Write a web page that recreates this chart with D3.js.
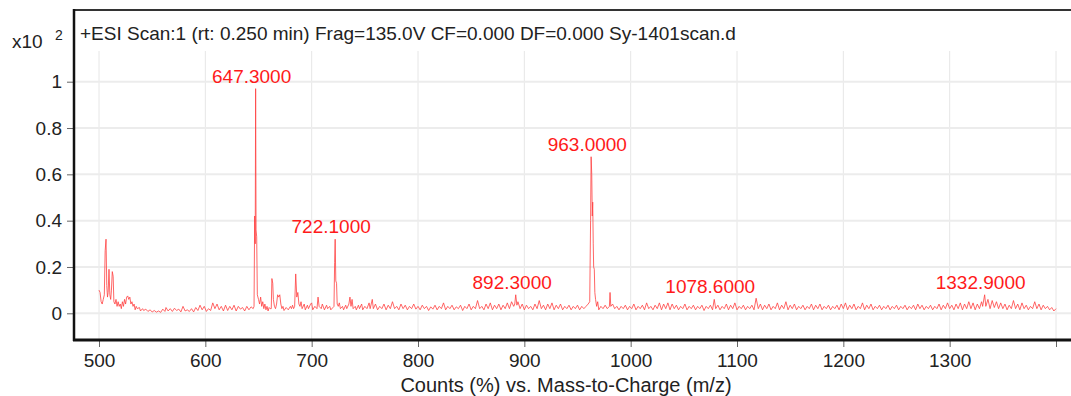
<!DOCTYPE html>
<html>
<head>
<meta charset="utf-8">
<script src="https://cdn.jsdelivr.net/npm/d3@7"></script>
<style>
  html, body { margin: 0; padding: 0; background: #fff; }
  svg { display: block; font-family: "Liberation Sans", Arial, sans-serif; }
</style>
</head>
<body>
<svg width="1071" height="396"></svg>
<script>
// title / axis texts
var title = "+ESI Scan:1 (rt: 0.250 min) Frag=135.0V CF=0.000 DF=0.000 Sy-1401scan.d";
var xTitle = "Counts (%) vs. Mass-to-Charge (m/z)";
var xTicks = [500, 600, 700, 800, 900, 1000, 1100, 1200, 1300, 1400];
var xLabels = ["500", "600", "700", "800", "900", "1000", "1100", "1200", "1300", ""];
var yTicks = [0, 0.2, 0.4, 0.6, 0.8, 1];
var yLabels = ["0", "0.2", "0.4", "0.6", "0.8", "1"];

// labelled peaks [m/z, intensity x10^2]
var peaks = [[647.3, 0.97], [722.1, 0.32], [892.3, 0.08], [963.0, 0.676], [1078.6, 0.06], [1332.9, 0.08]];

// spectrum [m/z, intensity x10^2]
var spectrum = [
[500,0.10],[501,0.09],[502,0.05],[503,0.04],[504,0.06],[505,0.08],[505.8,0.27],[506.6,0.32],[507.3,0.12],[508,0.07],
[508.6,0.09],[509.4,0.19],[510.2,0.08],[511,0.06],[511.7,0.10],[512.5,0.18],[513.3,0.16],[514,0.05],[515,0.04],[516,0.06],
[517,0.03],[518,0.05],[519,0.03],[520,0.04],[521,0.02],[522,0.05],[523,0.03],[524,0.06],[525,0.04],[526,0.07],
[527,0.075],[528,0.06],[529,0.07],[530,0.04],[531,0.05],[532,0.03],[533,0.04],[534,0.015],[535,0.03],[536,0.02],
[538,0.025],[539,0.01],[541,0.02],[542,0.012],[544,0.018],[546,0.008],[548,0.015],[550,0.006],[552,0.012],[554,0.005],
[556,0.01],[558,0.004],[560,0.018],[562,0.008],[563,0.025],[565,0.01],[567,0.02],[569,0.008],[571,0.022],[573,0.012],
[575,0.018],[577,0.006],[579,0.03],[581,0.01],[583,0.015],[585,0.008],[587,0.02],[589,0.006],[591,0.025],[593,0.012],
[595,0.035],[597,0.015],[599,0.03],[601,0.008],[603,0.02],[605,0.012],[607,0.045],[609,0.02],[611,0.04],[613,0.015],
[615,0.03],[617,0.01],[619,0.035],[621,0.012],[623,0.03],[625,0.015],[627,0.035],[629,0.01],[631,0.03],[633,0.018],
[635,0.025],[637,0.01],[639,0.03],[641,0.015],[643,0.028],[645,0.02],[645.8,0.03],[646.4,0.42],[646.9,0.3],[647.3,0.97],
[647.7,0.36],[648.3,0.33],[648.9,0.08],[650,0.06],[651,0.04],[652,0.07],[653,0.03],[654,0.05],[655,0.02],[656,0.04],
[657,0.015],[658,0.03],[659,0.01],[660,0.025],[661,0.02],[662,0.02],[662.6,0.15],[663.4,0.13],[664,0.06],[665,0.03],
[666,0.02],[667,0.04],[668,0.08],[669,0.07],[670,0.08],[671,0.04],[672,0.02],[673,0.03],[674,0.012],[676,0.025],
[678,0.015],[680,0.03],[681,0.02],[682,0.035],[683,0.02],[684,0.03],[685,0.17],[686,0.07],[687,0.09],[688,0.04],
[689,0.03],[690,0.05],[691,0.02],[693,0.04],[694,0.015],[696,0.035],[697,0.02],[699,0.04],[700,0.045],[701,0.015],
[703,0.03],[705,0.02],[706,0.07],[707,0.03],[709,0.02],[710,0.04],[712,0.015],[714,0.035],[715,0.02],[717,0.03],
[718,0.015],[720,0.025],[721,0.03],[721.6,0.22],[722.1,0.32],[722.7,0.14],[723.4,0.13],[724,0.04],[725,0.03],[726,0.045],
[727,0.02],[729,0.03],[730,0.015],[732,0.035],[733,0.02],[735,0.04],[736,0.07],[737,0.03],[738,0.06],[739,0.02],
[741,0.03],[742,0.015],[744,0.035],[745,0.02],[747,0.04],[748,0.015],[750,0.03],[752,0.02],[754,0.045],[755,0.02],
[757,0.06],[758,0.02],[760,0.04],[762,0.015],[764,0.03],[766,0.02],[768,0.04],[770,0.015],[772,0.035],[774,0.02],
[776,0.05],[778,0.02],[780,0.03],[782,0.015],[784,0.04],[786,0.02],[788,0.035],[790,0.015],[792,0.03],[794,0.02],
[796,0.04],[798,0.018],[800,0.03],[802,0.015],[804,0.035],[806,0.02],[808,0.03],[810,0.012],[812,0.028],[814,0.018],
[816,0.035],[818,0.015],[820,0.03],[822,0.02],[824,0.045],[826,0.015],[828,0.03],[830,0.02],[832,0.035],[834,0.015],
[836,0.028],[838,0.02],[840,0.035],[842,0.012],[844,0.03],[846,0.02],[848,0.04],[850,0.015],[852,0.03],[854,0.02],
[856,0.055],[858,0.02],[860,0.03],[862,0.015],[864,0.04],[866,0.02],[868,0.045],[870,0.015],[872,0.035],[874,0.02],
[876,0.04],[878,0.015],[880,0.035],[882,0.02],[884,0.045],[886,0.02],[888,0.05],[890,0.03],[891,0.04],[891.9,0.08],
[893,0.035],[894,0.05],[896,0.02],[898,0.04],[900,0.015],[902,0.035],[904,0.02],[906,0.03],[908,0.015],[910,0.04],
[912,0.02],[914,0.055],[916,0.02],[918,0.035],[920,0.015],[922,0.04],[924,0.02],[926,0.045],[928,0.015],[930,0.035],
[932,0.02],[934,0.04],[936,0.015],[938,0.03],[940,0.02],[942,0.035],[944,0.015],[946,0.03],[948,0.02],[950,0.035],
[952,0.015],[954,0.03],[956,0.02],[958,0.03],[960,0.04],[961.5,0.05],[962.3,0.4],[962.8,0.676],[963.4,0.6],[963.9,0.42],
[964.3,0.48],[964.8,0.3],[965.2,0.2],[965.8,0.19],[966.3,0.09],[967,0.06],[968,0.03],[969,0.05],[970,0.015],[972,0.03],
[974,0.02],[976,0.035],[978,0.02],[980,0.03],[980.6,0.09],[981.3,0.03],[983,0.04],[985,0.02],[987,0.03],[989,0.015],
[991,0.03],[993,0.02],[995,0.035],[997,0.015],[999,0.03],[1001,0.02],[1003,0.04],[1005,0.015],[1007,0.03],[1009,0.02],
[1011,0.035],[1013,0.015],[1015,0.045],[1017,0.02],[1019,0.03],[1021,0.015],[1023,0.035],[1025,0.02],[1027,0.045],[1029,0.015],
[1031,0.04],[1033,0.02],[1035,0.045],[1037,0.015],[1039,0.04],[1041,0.02],[1043,0.035],[1045,0.015],[1047,0.03],[1049,0.02],
[1051,0.04],[1053,0.015],[1055,0.03],[1057,0.02],[1059,0.035],[1061,0.015],[1063,0.03],[1065,0.02],[1067,0.035],[1069,0.012],
[1071,0.03],[1073,0.02],[1075,0.035],[1077,0.015],[1078.6,0.06],[1080,0.02],[1082,0.035],[1084,0.015],[1086,0.03],[1088,0.02],
[1090,0.04],[1092,0.015],[1094,0.035],[1096,0.02],[1098,0.045],[1100,0.015],[1102,0.03],[1104,0.02],[1106,0.035],[1108,0.015],
[1110,0.03],[1112,0.02],[1114,0.035],[1116,0.015],[1118,0.065],[1120,0.02],[1122,0.04],[1124,0.015],[1126,0.035],[1128,0.02],
[1130,0.04],[1132,0.015],[1134,0.03],[1136,0.02],[1138,0.045],[1140,0.015],[1142,0.035],[1144,0.02],[1146,0.05],[1148,0.015],
[1150,0.035],[1152,0.02],[1154,0.04],[1156,0.015],[1158,0.03],[1160,0.02],[1162,0.035],[1164,0.015],[1166,0.03],[1168,0.02],
[1170,0.04],[1172,0.015],[1174,0.035],[1176,0.02],[1178,0.04],[1180,0.015],[1182,0.03],[1184,0.02],[1186,0.035],[1188,0.015],
[1190,0.03],[1192,0.02],[1194,0.035],[1196,0.015],[1198,0.04],[1200,0.02],[1202,0.045],[1204,0.015],[1206,0.035],[1208,0.02],
[1210,0.04],[1212,0.015],[1214,0.03],[1216,0.02],[1218,0.045],[1220,0.015],[1222,0.035],[1224,0.02],[1226,0.04],[1228,0.015],
[1230,0.03],[1232,0.02],[1234,0.035],[1236,0.015],[1238,0.03],[1240,0.02],[1242,0.035],[1244,0.015],[1246,0.03],[1248,0.02],
[1250,0.035],[1252,0.015],[1254,0.03],[1256,0.02],[1258,0.035],[1260,0.015],[1262,0.03],[1264,0.02],[1266,0.035],[1268,0.015],
[1270,0.04],[1272,0.02],[1274,0.035],[1276,0.015],[1278,0.03],[1280,0.02],[1282,0.035],[1284,0.015],[1286,0.03],[1288,0.02],
[1290,0.04],[1292,0.015],[1294,0.035],[1296,0.02],[1298,0.045],[1300,0.02],[1302,0.035],[1304,0.015],[1306,0.04],[1308,0.02],
[1310,0.045],[1312,0.015],[1314,0.04],[1316,0.02],[1318,0.05],[1320,0.02],[1322,0.045],[1324,0.015],[1326,0.04],[1328,0.02],
[1330,0.05],[1331,0.03],[1332.9,0.08],[1334,0.03],[1336,0.06],[1338,0.02],[1340,0.055],[1342,0.025],[1344,0.05],[1346,0.02],
[1348,0.045],[1350,0.02],[1352,0.04],[1354,0.015],[1356,0.035],[1358,0.02],[1360,0.055],[1362,0.02],[1364,0.04],[1366,0.015],
[1368,0.045],[1370,0.02],[1372,0.035],[1374,0.015],[1376,0.03],[1378,0.02],[1380,0.05],[1382,0.02],[1384,0.04],[1386,0.015],
[1388,0.035],[1390,0.02],[1392,0.03],[1394,0.015],[1396,0.025],[1398,0.01],[1400,0.02]
];

var svg = d3.select('svg');
var frame = {left: 74, right: 1071, top: 10, grid: 51, bottom: 340};

var x = d3.scaleLinear().domain([500, 1400]).range([99, 1056]);
var y = d3.scaleLinear().domain([0, 1]).range([313.3, 81.7]);

// grid
svg.append('g').selectAll('line')
    .data(xTicks).enter().append('line')
    .attr('x1', function(d){ return x(d); })
    .attr('x2', function(d){ return x(d); })
    .attr('y1', frame.grid).attr('y2', frame.bottom)
    .attr('stroke', '#e6e6e6').attr('stroke-width', 1);

svg.append('g').selectAll('line')
    .data(yTicks).enter().append('line')
    .attr('x1', frame.left).attr('x2', frame.right)
    .attr('y1', function(d){ return y(d); })
    .attr('y2', function(d){ return y(d); })
    .attr('stroke', '#ececec').attr('stroke-width', 2);

// spectrum line
var line = d3.line()
    .x(function(d){ return x(d[0]); })
    .y(function(d){ return y(d[1]); });

svg.append('path')
    .datum(spectrum)
    .attr('d', line)
    .attr('fill', 'none')
    .attr('stroke', '#ff4040')
    .attr('stroke-opacity', 0.8)
    .attr('stroke-width', 1);

// peak labels
svg.append('g').selectAll('text')
    .data(peaks).enter().append('text')
    .attr('x', function(d){ return x(d[0]) - 4; })
    .attr('y', function(d){ return y(d[1]) - 6; })
    .attr('text-anchor', 'middle')
    .attr('fill', '#ff1a1a')
    .attr('font-size', '19px')
    .text(function(d){ return d[0].toFixed(4); });

// axes
var xAxis = d3.axisBottom(x).tickValues(xTicks).tickSize(7).tickPadding(7)
    .tickFormat(function(d, i){ return xLabels[i]; });
var gx = svg.append('g')
    .attr('transform', 'translate(0,' + frame.bottom + ')')
    .call(xAxis);
gx.select('.domain').remove();
gx.selectAll('.tick line').attr('stroke', '#666');
gx.selectAll('.tick text').attr('fill', '#222').attr('font-size', '19px')
    .attr('font-family', '"Liberation Sans", Arial, sans-serif');

var yAxis = d3.axisLeft(y).tickValues(yTicks).tickSize(7).tickPadding(5)
    .tickFormat(function(d, i){ return yLabels[i]; });
var gy = svg.append('g')
    .attr('transform', 'translate(' + frame.left + ',0)')
    .call(yAxis);
gy.select('.domain').remove();
gy.selectAll('.tick line').attr('stroke', '#666');
gy.selectAll('.tick text').attr('fill', '#222').attr('font-size', '19px')
    .attr('font-family', '"Liberation Sans", Arial, sans-serif');

// frame lines
svg.append('line')
    .attr('x1', frame.left).attr('x2', frame.right)
    .attr('y1', frame.top).attr('y2', frame.top)
    .attr('stroke', '#333').attr('stroke-width', 2);
svg.append('line')
    .attr('x1', frame.left).attr('x2', frame.left)
    .attr('y1', frame.top - 1).attr('y2', frame.bottom + 1)
    .attr('stroke', '#111').attr('stroke-width', 2.5);
svg.append('line')
    .attr('x1', frame.left - 1).attr('x2', frame.right)
    .attr('y1', frame.bottom).attr('y2', frame.bottom)
    .attr('stroke', '#111').attr('stroke-width', 3);

// title and multiplier
svg.append('text')
    .attr('x', 80).attr('y', 40)
    .attr('fill', '#222').attr('font-size', '19px')
    .text(title);
svg.append('text')
    .attr('x', 12).attr('y', 48)
    .attr('fill', '#222').attr('font-size', '19px')
    .text('x10');
svg.append('text')
    .attr('x', 55).attr('y', 40)
    .attr('fill', '#222').attr('font-size', '14px')
    .text('2');

// x axis title
svg.append('text')
    .attr('x', 566).attr('y', 392)
    .attr('text-anchor', 'middle')
    .attr('fill', '#222').attr('font-size', '20px')
    .text(xTitle);
</script>
</body>
</html>
